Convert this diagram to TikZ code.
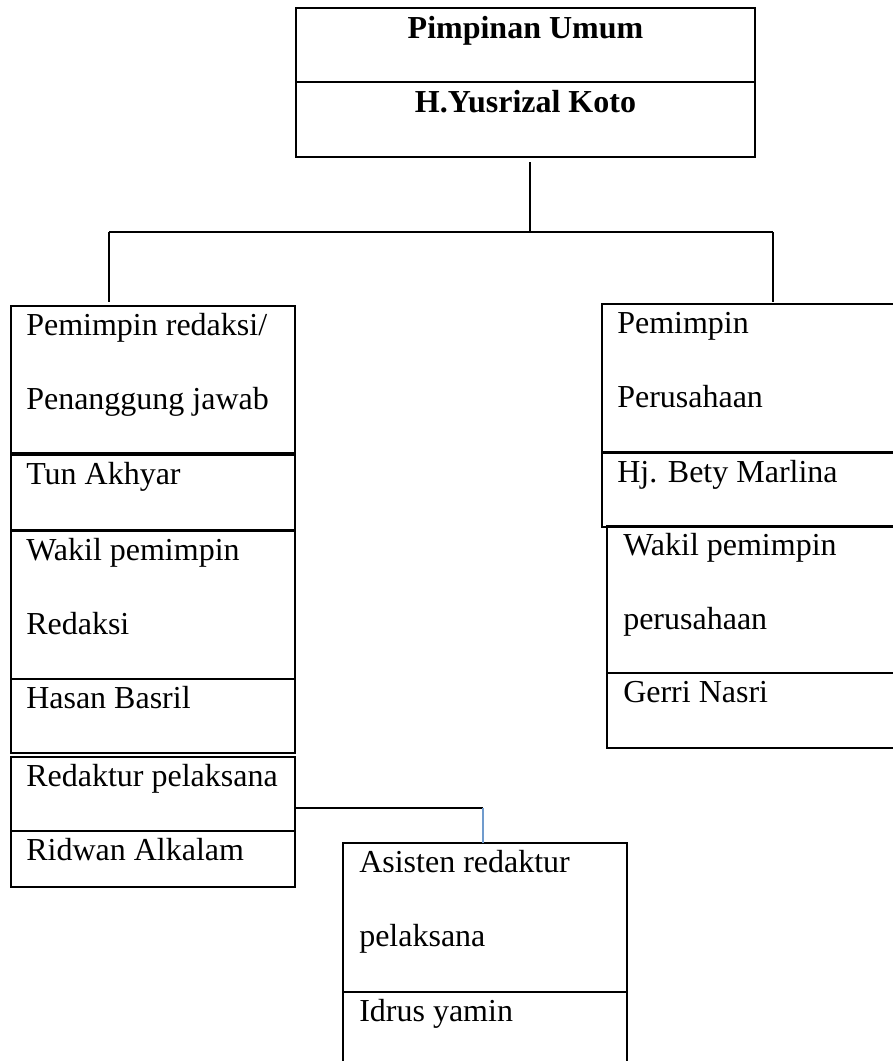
\documentclass[tikz,border=0pt]{standalone}
\usepackage{fontspec}
\setmainfont{Liberation Serif}
\newcommand\cellbox[5]{\node[cell, minimum width={(#4-#2)*0.75pt}, minimum height={(#5-#3)*0.75pt}] (#1) at (#2,#3) {};}
\definecolor{linkblue}{RGB}{112,155,205}
\tikzset{
  cell/.style={draw, line width=0.9pt, inner sep=0pt, outer sep=0pt, anchor=north west},
  txt/.style={anchor=base west, inner sep=0pt, font=\fontsize{24}{28}\selectfont},
  ttl/.style={anchor=base, inner sep=0pt, font=\fontsize{24}{28}\selectfont\bfseries},
  conn/.style={line width=1.5pt},
  blueconn/.style={line width=1.8pt, draw=linkblue},
}
\begin{document}
\begin{tikzpicture}[x=0.75pt, y=-0.75pt]
\useasboundingbox (0,0) rectangle (893,1061);
\clip (0,0) rectangle (893,1061);
% top box
\cellbox{T1}{296}{8}{755}{82}
\cellbox{T2}{296}{82}{755}{157}
\node[ttl] (t1) at (525.5,38) {Pimpinan Umum};
\node[ttl] (t2) at (525.5,112) {H.Yusrizal Koto};
% left column
\cellbox{L1}{11}{306}{295}{453}
\cellbox{L2}{11}{455}{295}{530}
\cellbox{L3}{11}{531}{295}{679}
\cellbox{L3b}{11}{679}{295}{753}
\cellbox{L4}{11}{757}{295}{831}
\cellbox{L4b}{11}{831}{295}{887}
\node[txt] (l1a) at (26,335) {Pemimpin redaksi/};
\node[txt] (l1b) at (26,409) {Penanggung jawab};
\node[txt] (l2) at (26,484) {Tun Akhyar};
\node[txt] (l3a) at (26,560) {Wakil pemimpin};
\node[txt] (l3b) at (26,634) {Redaksi};
\node[txt] (l3c) at (26,708) {Hasan Basril};
\node[txt] (l4a) at (26,786) {Redaktur pelaksana};
\node[txt] (l4b) at (26,860) {Ridwan Alkalam};
% right column
\cellbox{R1}{602}{304}{897}{452}
\cellbox{R2}{602}{453}{897}{527}
\cellbox{R3}{607}{526}{897}{673}
\cellbox{R3b}{607}{673}{897}{748}
\node[txt] (r1a) at (617,333) {Pemimpin};
\node[txt] (r1b) at (617,407) {Perusahaan};
\node[txt] (r2) at (617,482) {Hj. Bety Marlina};
\node[txt] (r3a) at (623,555) {Wakil pemimpin};
\node[txt] (r3b) at (623,629) {perusahaan};
\node[txt] (r3c) at (623,702) {Gerri Nasri};
% bottom box
\cellbox{B1}{343}{843}{627}{992}
\cellbox{B1b}{343}{992}{627}{1068}
\node[txt] (b1a) at (359,872) {Asisten redaktur};
\node[txt] (b1b) at (359,946) {pelaksana};
\node[txt] (b1c) at (359,1021) {Idrus yamin};
% connectors
\coordinate (stem) at (530,162);
\coordinate (hub) at (530,232);
\coordinate (hl) at (109,232);
\coordinate (hr) at (773,232);
\draw[conn] (T2.south -| stem) ++(0,5) -- (hub);
\draw[conn] (hl) -- (hr);
\draw[conn] (hl) -- ([yshift=3pt]hl |- L1.north);
\draw[conn] (hr) -- ([yshift=1.5pt]hr |- R1.north);
\coordinate (elbow) at (483,808);
\draw[conn] (elbow -| L4.east) -- (elbow);
\draw[blueconn] (elbow) -- (elbow |- B1.north);
\end{tikzpicture}
\end{document}
